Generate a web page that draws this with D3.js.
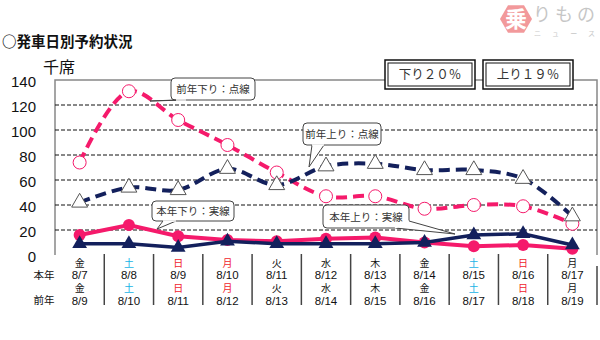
<!DOCTYPE html>
<html>
<head>
<meta charset="utf-8">
<script src="https://cdn.jsdelivr.net/npm/d3@7"></script>
<style>
  html, body { margin: 0; padding: 0; background: #fff; }
  svg { display: block; }
</style>
</head>
<body>
<svg id="chart" width="600" height="340"></svg>
<script>
// Departure dates (this year / last year) and weekday labels
const curDates  = ["8/7","8/8","8/9","8/10","8/11","8/12","8/13","8/14","8/15","8/16","8/17"];
const curDays   = ["金","土","日","月","火","水","木","金","土","日","月"];
const curKinds  = ["w","sa","su","ho","w","w","w","w","sa","su","w"];
const prevDates = ["8/9","8/10","8/11","8/12","8/13","8/14","8/15","8/16","8/17","8/18","8/19"];
const prevDays  = ["金","土","日","月","火","水","木","金","土","日","月"];
const prevKinds = ["w","sa","su","ho","w","w","w","w","sa","su","w"];

// Reserved seats (thousands)
const prevDown = [74, 131, 108, 88, 66, 47, 47, 37, 40, 39, 25];
const prevUp   = [42, 54, 52, 69, 56, 71, 73, 68, 68, 61, 31];
const curDown  = [16, 24, 15, 12, 11, 13, 14, 10, 7, 8, 5];
const curUp    = [9, 9, 6, 11, 9, 9, 9, 10, 16, 17, 8];

const yTicks = [0, 20, 40, 60, 80, 100, 120, 140];

const PINK = "#f51a6b", NAVY = "#13205c";
const JP = "'Noto Sans CJK JP', 'Noto Sans', sans-serif";
const NUM = "'Liberation Sans', Arial, sans-serif";

const svg = d3.select("#chart");
const plotL = 55, plotR = 597, plotT = 80, plotB = 255;

const x = d3.scaleBand().domain(curDates).range([plotL, plotR]).padding(0);
const y = d3.scaleLinear().domain([0, 140]).range([plotB, plotT]);
const cx = (d, i) => x(curDates[i]) + x.bandwidth() / 2;

// Title and unit
svg.append("text").attr("x", 2).attr("y", 47)
  .attr("font-family", JP).attr("font-weight", "bold").attr("font-size", 14.5)
  .attr("fill", "#111").text("○発車日別予約状況");
svg.append("text").attr("x", 43).attr("y", 73)
  .attr("font-family", JP).attr("font-size", 16).attr("fill", "#111").text("千席");

// Logo
const logo = svg.append("g").attr("opacity", 0.55);
const hx = 516, hy = 19, hr = 16;
logo.append("polygon")
  .attr("points", d3.range(6).map(k => {
    const a = Math.PI / 3 * k;
    return [hx + hr * Math.cos(a), hy + hr * Math.sin(a)].join(",");
  }).join(" "))
  .attr("fill", "#e8474a");
logo.append("text").attr("x", hx).attr("y", hy + 8).attr("text-anchor", "middle")
  .attr("font-family", JP).attr("font-weight", "bold").attr("font-size", 22)
  .attr("fill", "#fff").text("乗");
logo.append("text").attr("x", 533).attr("y", 21).attr("textLength", 62)
  .attr("font-family", JP).attr("font-size", 18).attr("fill", "#999").text("りもの");
logo.append("text").attr("x", 534).attr("y", 36).attr("textLength", 61)
  .attr("font-family", JP).attr("font-size", 7).attr("fill", "#999").text("ニュース");

// Plot frame
svg.append("path")
  .attr("d", `M${plotL},${plotB}V${plotT}H${plotR}V${plotB}`)
  .attr("fill", "none").attr("stroke", "#888").attr("stroke-width", 1.5);

// Dashed gridlines
svg.append("g").selectAll("line").data(yTicks.filter(v => v > 0 && v < 140)).join("line")
  .attr("x1", plotL).attr("x2", plotR)
  .attr("y1", d => y(d)).attr("y2", d => y(d))
  .attr("stroke", "#111").attr("stroke-width", 1).attr("stroke-dasharray", "4,2");

// Y axis labels
const yAxis = svg.append("g").attr("transform", `translate(${plotL},0)`)
  .call(d3.axisLeft(y).tickValues(yTicks).tickSize(0).tickPadding(19));
yAxis.select(".domain").remove();
yAxis.selectAll("text").attr("font-family", NUM).attr("font-size", 15).attr("fill", "#111")
  .attr("dy", "0.4em");

// Summary boxes
const boxes = [
  { x: 385, label: "下り２０％" },
  { x: 483, label: "上り１９％" }
];
boxes.forEach(b => {
  svg.append("rect").attr("x", b.x).attr("y", 60).attr("width", 90).attr("height", 29)
    .attr("fill", "#fff").attr("stroke", "#111").attr("stroke-width", 1.5);
  svg.append("rect").attr("x", b.x + 3).attr("y", 63).attr("width", 84).attr("height", 23)
    .attr("fill", "#fff").attr("stroke", "#111").attr("stroke-width", 1);
  svg.append("text").attr("x", b.x + 45).attr("y", 79).attr("text-anchor", "middle")
    .attr("font-family", "'Liberation Serif', 'DejaVu Serif', " + JP)
    .attr("font-size", 12.5).attr("fill", "#333").text(b.label);
});

// X labels area
const sep = svg.append("g");
curDates.forEach((d, i) => {
  if (i === 0) return;
  sep.append("line").attr("x1", x(d)).attr("x2", x(d)).attr("y1", 254).attr("y2", 305)
    .attr("stroke", "#444").attr("stroke-width", 1.5);
});
sep.append("line").attr("x1", plotR).attr("x2", plotR).attr("y1", 266).attr("y2", 305)
  .attr("stroke", "#444").attr("stroke-width", 1.5);

const kindColor = k => k === "sa" ? "#19b4e6" : (k === "su" || k === "ho") ? "#f0242d" : "#111";
const lab = svg.append("g").attr("text-anchor", "middle");
curDates.forEach((d, i) => {
  const px = cx(d, i);
  lab.append("text").attr("x", px).attr("y", 266.5).attr("font-family", JP).attr("font-size", 10)
    .attr("fill", kindColor(curKinds[i])).text(curDays[i]);
  lab.append("text").attr("x", px).attr("y", 279).attr("font-family", NUM).attr("font-size", 11.5)
    .attr("fill", "#111").text(d);
  lab.append("text").attr("x", px).attr("y", 292).attr("font-family", JP).attr("font-size", 10)
    .attr("fill", kindColor(prevKinds[i])).text(prevDays[i]);
  lab.append("text").attr("x", px).attr("y", 304.5).attr("font-family", NUM).attr("font-size", 11.5)
    .attr("fill", "#111").text(prevDates[i]);
});
lab.append("text").attr("x", 44).attr("y", 279).attr("font-family", JP).attr("font-size", 10.5)
  .attr("fill", "#111").text("本年");
lab.append("text").attr("x", 44).attr("y", 304).attr("font-family", JP).attr("font-size", 10.5)
  .attr("fill", "#111").text("前年");

// Series
const smooth = d3.line().x(cx).y(d => y(d)).curve(d3.curveCatmullRom.alpha(0.5));
const straight = d3.line().x(cx).y(d => y(d));
const tri = (s) => d3.symbol().type(d3.symbolTriangle).size(s);

// Last year, outbound (down): dashed pink, open circles
svg.append("path").attr("d", smooth(prevDown)).attr("fill", "none")
  .attr("stroke", PINK).attr("stroke-width", 4).attr("stroke-dasharray", "11,6");
// Last year, inbound (up): dashed navy, open triangles
svg.append("path").attr("d", smooth(prevUp)).attr("fill", "none")
  .attr("stroke", NAVY).attr("stroke-width", 4).attr("stroke-dasharray", "11,6");

svg.append("g").selectAll("circle").data(prevDown).join("circle")
  .attr("cx", cx).attr("cy", d => y(d)).attr("r", 6.5)
  .attr("fill", "#fff").attr("stroke", PINK).attr("stroke-width", 1);
svg.append("g").selectAll("path").data(prevUp).join("path")
  .attr("transform", (d, i) => `translate(${cx(d, i)},${y(d)})`)
  .attr("d", tri(110)).attr("fill", "#fff").attr("stroke", "#555").attr("stroke-width", 1);

// This year, outbound: solid pink, filled circles
svg.append("path").attr("d", straight(curDown)).attr("fill", "none")
  .attr("stroke", PINK).attr("stroke-width", 4);
svg.append("g").selectAll("circle").data(curDown).join("circle")
  .attr("cx", cx).attr("cy", d => y(d)).attr("r", 6).attr("fill", PINK);

// This year, inbound: solid navy, filled triangles
svg.append("path").attr("d", straight(curUp)).attr("fill", "none")
  .attr("stroke", NAVY).attr("stroke-width", 3.5);
svg.append("g").selectAll("path").data(curUp).join("path")
  .attr("transform", (d, i) => `translate(${cx(d, i)},${y(d)})`)
  .attr("d", tri(95)).attr("fill", NAVY);

// Callout labels
const callouts = [
  { x: 171, y: 78, w: 84, h: 22, text: "前年下り：点線", p: [[176, 100], [150, 101], [186, 100]] },
  { x: 303, y: 123, w: 78, h: 22, text: "前年上り：点線", p: [[312, 145], [309, 167], [324, 145]] },
  { x: 152, y: 201, w: 82, h: 20, text: "本年下り：実線", p: [[163, 221], [157, 229], [176, 221]] },
  { x: 323, y: 205, w: 86, h: 23, text: "本年上り：実線", p: [[395, 228], [455, 234], [409, 221]] }
];
callouts.forEach(c => {
  const g = svg.append("g");
  g.append("rect").attr("x", c.x).attr("y", c.y).attr("width", c.w).attr("height", c.h)
    .attr("rx", 4).attr("fill", "#fff").attr("stroke", "#444").attr("stroke-width", 1);
  g.append("path").attr("d", d3.line()(c.p)).attr("fill", "#fff")
    .attr("stroke", "#444").attr("stroke-width", 1);
  g.append("line").attr("x1", c.p[0][0]).attr("y1", c.p[0][1])
    .attr("x2", c.p[2][0]).attr("y2", c.p[2][1])
    .attr("stroke", "#fff").attr("stroke-width", 1.5);
  g.append("text").attr("x", c.x + c.w / 2).attr("y", c.y + c.h / 2 + 4)
    .attr("text-anchor", "middle").attr("font-family", JP).attr("font-size", 10.5)
    .attr("fill", "#333").text(c.text);
});
</script>
</body>
</html>
